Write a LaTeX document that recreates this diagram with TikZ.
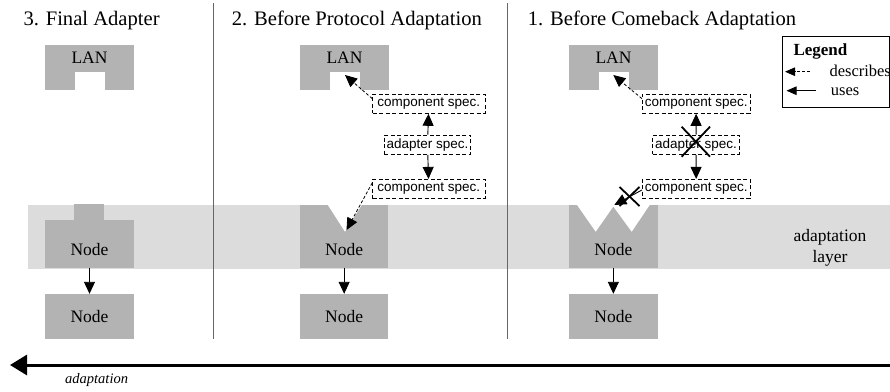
\documentclass[tikz,border=0pt]{standalone}
\usepackage{fontspec}
\setmainfont{Liberation Serif}
\setsansfont{Liberation Sans}
\usetikzlibrary{arrows.meta}
\definecolor{boxgray}{HTML}{B3B3B3}
\definecolor{bandgray}{HTML}{DCDCDC}
\definecolor{divgray}{HTML}{666666}
\tikzset{
  title/.style={anchor=base west, inner sep=0pt, font=\fontsize{20.6}{24}\selectfont},
  lbl/.style={inner sep=0pt, font=\fontsize{17.5}{21}\selectfont},
  spec/.style={draw, dash pattern=on 4pt off 2.5pt, line width=0.9pt, inner sep=0pt,
    minimum height=19.3pt, fill=white, font=\sffamily\fontsize{13.5}{16}\selectfont},
  gbox/.style={fill=boxgray, draw=none, inner sep=0pt, font=\fontsize{17.5}{21}\selectfont},
  uses/.style={-{Triangle[length=12pt,width=11pt]}, line width=0.9pt},
  describes/.style={uses, dash pattern=on 3pt off 2pt, line width=0.8pt},
  legarrow/.style={-{Triangle[length=10pt,width=8.5pt]}, line width=0.9pt},
  divider/.style={draw=divgray, line width=1.3pt},
  cross/.style={line width=1.8pt, line cap=butt}
}
\begin{document}
\begin{tikzpicture}[x=1pt,y=-1pt]
\useasboundingbox (0,0) rectangle (890,391);
% adaptation layer band
\fill[bandgray] (28.3,205) rectangle (890,269);
% dividers
\draw[divider] (213.3,3) -- (213.3,338.7);
\draw[divider] (507.5,3) -- (507.5,338.7);
% titles
\node[title] (t3) at (23.3,25) {3. Final Adapter};
\node[title] (t2) at (231.7,25) {2. Before Protocol Adaptation};
\node[title] (t1) at (527.7,25) {1. Before Comeback Adaptation};

% ---------- panel 3 ----------
\node[gbox, minimum width=89pt, minimum height=45pt] (lan3) at (89.5,67.5) {};
\fill[white] (75,71.7) rectangle (105,90.5);
\node[lbl, anchor=base] (lan3t) at (89.5,63) {LAN};
\node[gbox, minimum width=89pt, minimum height=47.7pt] (n3) at (89.5,243.85) {};
\fill[boxgray] (74,204) rectangle (103.7,220.5);
\node[lbl, anchor=base] (n3t) at (89.5,255) {Node};
\node[gbox, minimum width=89pt, minimum height=44.7pt] (n3b) at (89.5,316.35) {Node};
\draw[uses] (n3) -- (n3b);

% ---------- panel 2 ----------
\node[gbox, minimum width=89pt, minimum height=45pt] (lan2) at (344.5,67.5) {};
\fill[white] (330,71.7) rectangle (360,90.5);
\node[lbl, anchor=base] (lan2t) at (344.5,63) {LAN};
\coordinate (lan2notch) at (345,75);
\node[gbox, minimum width=88.3pt, minimum height=62.7pt] (n2) at (344.15,236.35) {};
\fill[white] (327.5,204.5) -- (345,231.7) -- (362,204.5) -- cycle;
\node[lbl, anchor=base] (n2t) at (344.15,255) {Node};
\coordinate (n2tip) at (346.5,230);
\node[gbox, minimum width=88.3pt, minimum height=44.7pt] (n2b) at (344.15,316.35) {Node};
\draw[uses] (n2) -- (n2b);

\node[spec, minimum width=112.3pt] (cs2a) at (428.8,103.7) {component spec.};
\node[spec, minimum width=86.6pt] (ad2) at (427.5,144.7) {adapter spec.};
\node[spec, minimum width=112.3pt] (cs2b) at (428.8,189) {component spec.};
\draw[uses] (ad2) -- (cs2a);
\draw[uses] (ad2) -- (cs2b);
\draw[describes] ([yshift=-5pt]cs2a.north west) -- (lan2notch);
\draw[describes] ([yshift=-4pt]cs2b.north west) -- (n2tip);

% ---------- panel 1 ----------
\node[gbox, minimum width=89pt, minimum height=45pt] (lan1) at (613.5,67.5) {};
\fill[white] (599,71.7) rectangle (629,90.5);
\node[lbl, anchor=base] (lan1t) at (613.5,63) {LAN};
\coordinate (lan1notch) at (613.3,75);
\node[gbox, minimum width=88.7pt, minimum height=62.7pt] (n1) at (613.35,236.35) {};
\fill[white] (576.7,204.5) -- (595.7,231.7) -- (613.3,206.5) -- (631.7,231.7) -- (650,204.5) -- cycle;
\node[lbl, anchor=base] (n1t) at (613.35,255) {Node};
\coordinate (n1notch) at (614.3,205);
\node[gbox, minimum width=88.7pt, minimum height=44.7pt] (n1b) at (613.35,316.35) {Node};
\draw[uses] (n1) -- (n1b);

\node[spec, minimum width=107.7pt] (cs1a) at (696.2,103.7) {component spec.};
\node[spec, minimum width=86.6pt] (ad1) at (696,144.7) {adapter spec.};
\node[spec, minimum width=107.7pt] (cs1b) at (696.2,189) {component spec.};
\draw[uses] (ad1) -- (cs1a);
\draw[uses] (ad1) -- (cs1b);
\draw[describes] ([yshift=-5pt]cs1a.north west) -- (lan1notch);
\draw[uses] ([yshift=-1pt]cs1b.west) -- (n1notch);
% crosses
\coordinate (x1) at (695.8,141.7);
\draw[cross] ([shift={(-14.2,-15)}]x1) -- ([shift={(14.2,15)}]x1);
\draw[cross] ([shift={(14.2,-15)}]x1) -- ([shift={(-14.2,15)}]x1);
\coordinate (x2) at (629.5,196.5);
\draw[cross] ([shift={(-10,-9.5)}]x2) -- ([shift={(10,9.5)}]x2);
\draw[cross] ([shift={(10,-9.5)}]x2) -- ([shift={(-10,9.5)}]x2);

% adaptation layer label
\node[lbl, align=center, anchor=center] (layer) at (830,248) {adaptation\\layer};

% ---------- legend ----------
\node[draw, line width=0.9pt, minimum width=107pt, minimum height=71pt, inner sep=0pt] (legend) at (835.8,72.2) {};
\node[anchor=base west, inner sep=0pt, font=\bfseries\fontsize{17}{20}\selectfont] (legt) at (793.3,55) {Legend};
\coordinate (ld1) at (810,71.7);
\coordinate (ld0) at (785,71.7);
\draw[legarrow, dash pattern=on 3pt off 2pt] (ld1) -- (ld0);
\node[anchor=base west, inner sep=0pt, font=\fontsize{16.5}{20}\selectfont] (legd) at (829.3,76.7) {describes};
\coordinate (lu1) at (815.7,90.7);
\coordinate (lu0) at (786.5,90.7);
\draw[legarrow] (lu1) -- (lu0);
\node[anchor=base west, inner sep=0pt, font=\fontsize{16.5}{20}\selectfont] (legu) at (830.7,95) {uses};

% ---------- adaptation arrow ----------
\coordinate (aR) at (890,365);
\coordinate (aL) at (10,365);
\draw[line width=3pt, -{Triangle[length=17pt,width=20pt]}] (aR) -- (aL);
\node[anchor=base west, inner sep=0pt, font=\itshape\fontsize{14.5}{17}\selectfont] (adlbl) at (65,383) {adaptation};
\end{tikzpicture}
\end{document}
